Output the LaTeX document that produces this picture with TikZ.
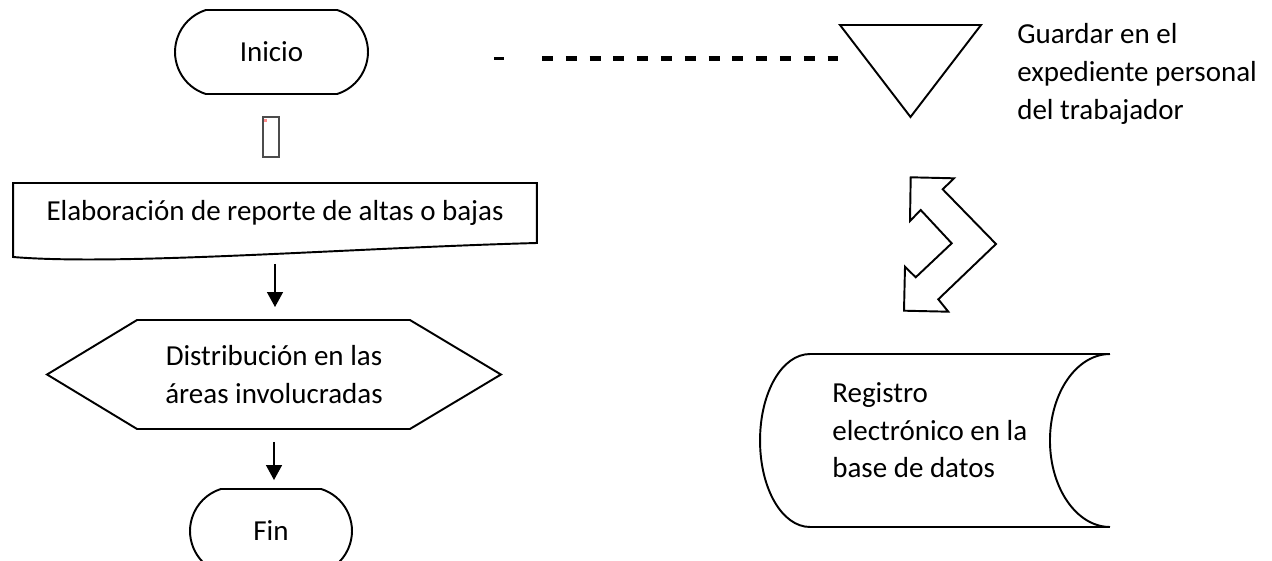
\documentclass[tikz,border=0pt]{standalone}
\usepackage{fontspec}
\setmainfont{Carlito}
\usetikzlibrary{arrows.meta, positioning, calc, shapes.misc}

\begin{document}
\begin{tikzpicture}[
  x=0.02cm, y=-0.02cm,
  font=\fontsize{16.5}{21.4}\selectfont,
  terminal/.style = {draw, line width=1.1pt, rounded rectangle, rounded rectangle arc length=145, minimum width=3.86cm, minimum height=1.68cm, inner sep=0pt},
  forma/.style = {inner sep=0pt, outer sep=0pt},
  linea/.style = {line width=1.1pt, line join=miter},
  arrow/.style = {line width=0.8pt, -{Triangle[width=0.32cm, length=0.3cm]}},
  texto/.style = {align=left, anchor=west, inner sep=0pt}
]
  \useasboundingbox (0,0) rectangle (1272,561);

  % Start, embedded object and end
  \node[terminal] (inicio) at (271.5,52) {Inicio};
  \node[draw=black!70, line width=0.6pt, minimum width=0.32cm, minimum height=0.8cm, inner sep=0pt] (objeto) at (271,137) {};
  \fill[red!45] ($(objeto.north west)+(2,3)$) rectangle ++(3,3);
  \node[terminal, minimum width=3.24cm] (fin) at (271,531) {Fin};

  % Document block
  \node[forma, minimum width=10.48cm, minimum height=1.2cm] (reporte) at (275,213) {Elaboración de reporte de altas o bajas};
  \draw[linea] ($(reporte.south west)+(0,14)$) -- (reporte.north west) -- (reporte.north east) -- (reporte.south east)
    .. controls ($(reporte.south east)+(-187,5)$) and ($(reporte.south west)+(107,23)$) .. ($(reporte.south west)+(0,14)$) -- cycle;

  % Hexagon block
  \node[forma, minimum width=9.08cm, minimum height=2.18cm, align=center] (distrib) at (274,374.5) {Distribución en las\\áreas involucradas};
  \draw[linea] (distrib.west) -- ($(distrib.north west)+(90,0)$) -- ($(distrib.north east)+(-91,0)$) -- (distrib.east)
    -- ($(distrib.south east)+(-91,0)$) -- ($(distrib.south west)+(90,0)$) -- cycle;

  % Flow arrows
  \draw[arrow, shorten <=0.42cm, shorten >=0.26cm] (reporte.south) -- (reporte.south |- distrib.north);
  \draw[arrow, shorten <=0.26cm, shorten >=0.16cm] (distrib.south) -- (distrib.south |- fin.north);

  % Dashed line
  \coordinate (guionA) at (494,58);
  \coordinate (guionB) at (504,58);
  \draw[line width=0.06cm] (guionA) -- (guionB);
  \coordinate (rayaA) at (542,58);
  \coordinate (rayaB) at (838,58);
  \draw[line width=0.1cm, dash pattern=on 0.22cm off 0.256cm] (rayaA) -- (rayaB);

  % Storage triangle
  \node[forma, minimum width=2.82cm, minimum height=1.84cm] (guardar) at (910.5,71) {};
  \draw[linea] (guardar.north west) -- (guardar.north east) -- (guardar.south) -- cycle;
  \node[texto, right=0.72cm of guardar, yshift=-0.06cm] (guardarTexto) {Guardar en el\\expediente personal\\del trabajador};

  % Bent double arrow
  \draw[linea] (910.7,177.3) -- (954,178.3) -- (942.7,189.3) -- (996,244) -- (938.3,299.3) -- (948.3,311.7)
    -- (904,310.7) -- (905,266.7) -- (915.7,277.3) -- (951.7,243.3) -- (920.7,210) -- (910,221) -- cycle;

  % Stored data
  \node[forma, minimum width=6cm, minimum height=3.46cm] (registro) at (960,440.5) {};
  \draw[linea] (registro.north west) -- (registro.north east)
    .. controls ($(registro.north east)+(-33,0)$) and ($(registro.east)+(-60,-48)$) .. ($(registro.east)+(-60,0)$)
    .. controls ($(registro.east)+(-60,48)$) and ($(registro.south east)+(-33,0)$) .. (registro.south east)
    -- (registro.south west)
    .. controls ($(registro.south west)+(-28,0)$) and ($(registro.west)+(-50,48)$) .. ($(registro.west)+(-50,0)$)
    .. controls ($(registro.west)+(-50,-48)$) and ($(registro.north west)+(-28,0)$) .. (registro.north west) -- cycle;
  \node[texto] (registroTexto) at ($(registro.west)+(22,-10)$) {Registro\\electrónico en la\\base de datos};

\end{tikzpicture}
\end{document}
